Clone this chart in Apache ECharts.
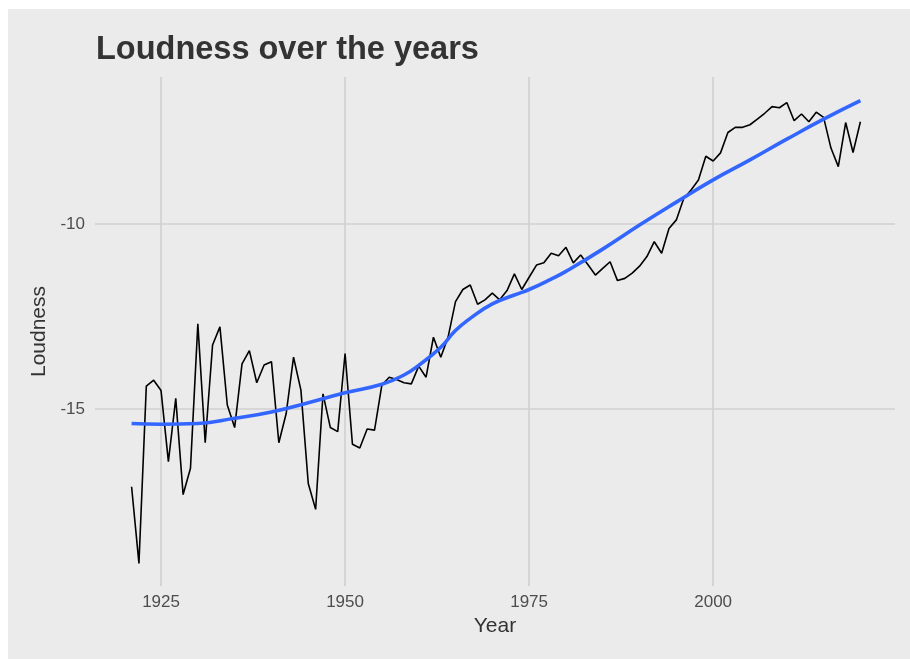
<!DOCTYPE html>
<html>
<head>
<meta charset="utf-8">
<script src="https://cdn.jsdelivr.net/npm/echarts@6/dist/echarts.min.js"></script>
<style>
  html, body { margin: 0; padding: 0; background: #fff; }
  #main { position: absolute; left: 8px; top: 9px; width: 902px; height: 650px; background: #EBEBEB; }
</style>
</head>
<body>
<div id="main"></div>
<script>
// yearly loudness (black line)
const years = [1921,1922,1923,1924,1925,1926,1927,1928,1929,1930,
  1931,1932,1933,1934,1935,1936,1937,1938,1939,1940,
  1941,1942,1943,1944,1945,1946,1947,1948,1949,1950,
  1951,1952,1953,1954,1955,1956,1957,1958,1959,1960,
  1961,1962,1963,1964,1965,1966,1967,1968,1969,1970,
  1971,1972,1973,1974,1975,1976,1977,1978,1979,1980,
  1981,1982,1983,1984,1985,1986,1987,1988,1989,1990,
  1991,1992,1993,1994,1995,1996,1997,1998,1999,2000,
  2001,2002,2003,2004,2005,2006,2007,2008,2009,2010,
  2011,2012,2013,2014,2015,2016,2017,2018,2019,2020];
const loudness = [-17.10,-19.17,-14.38,-14.22,-14.50,-16.42,-14.71,-17.31,-16.60,-12.70,
  -15.91,-13.27,-12.78,-14.89,-15.50,-13.78,-13.42,-14.29,-13.81,-13.72,
  -15.91,-15.12,-13.60,-14.49,-17.01,-17.71,-14.59,-15.50,-15.61,-13.50,
  -15.95,-16.05,-15.54,-15.57,-14.35,-14.14,-14.20,-14.29,-14.32,-13.84,
  -14.14,-13.06,-13.60,-13.05,-12.10,-11.77,-11.65,-12.17,-12.05,-11.87,
  -12.05,-11.80,-11.35,-11.77,-11.44,-11.11,-11.05,-10.79,-10.86,-10.63,
  -11.05,-10.84,-11.10,-11.38,-11.20,-11.02,-11.53,-11.47,-11.33,-11.14,
  -10.88,-10.48,-10.79,-10.12,-9.89,-9.31,-9.08,-8.81,-8.17,-8.30,
  -8.08,-7.53,-7.39,-7.39,-7.32,-7.17,-7.01,-6.83,-6.86,-6.72,
  -7.21,-7.03,-7.24,-6.98,-7.12,-7.95,-8.45,-7.26,-8.07,-7.24];

// smoothed trend (blue line), read at sample years
const trendYears = [1921,1925,1930,1935,1940,1945,1950,1955,1958,1960,1963,1965,1967,1970,1973,1975,1978,1980,1985,1990,1995,2000,2005,2010,2015,2020];
const trendValues = [-15.39,-15.41,-15.39,-15.25,-15.08,-14.83,-14.56,-14.33,-14.08,-13.82,-13.33,-12.88,-12.55,-12.16,-11.92,-11.77,-11.49,-11.28,-10.68,-10.03,-9.41,-8.81,-8.27,-7.71,-7.17,-6.67];

const xTicks = [1925, 1950, 1975, 2000];
const yTicks = [-10, -15];

const font = 'Liberation Sans, Arial, sans-serif';
const gridColor = '#D0D0D0';

let gridLines = [];
xTicks.forEach(v => gridLines.push({ xAxis: v }));
yTicks.forEach(v => gridLines.push({ yAxis: v }));

const option = {
  animation: false,
  title: {
    text: 'Loudness over the years',
    left: 83,
    top: 20,
    textStyle: { fontFamily: font, fontSize: 32.5, fontWeight: 'bold', color: '#333333' }
  },
  grid: { left: 87, top: 68, width: 800, height: 509 },
  xAxis: {
    type: 'value',
    min: 1916.03,
    max: 2024.7,
    name: 'Year',
    nameLocation: 'middle',
    nameGap: 30,
    nameTextStyle: { fontFamily: font, fontSize: 21, color: '#333333' },
    axisLine: { show: false },
    axisTick: { show: false },
    splitLine: { show: false },
    axisLabel: {
      customValues: xTicks,
      formatter: v => String(v),
      margin: 8,
      fontFamily: font, fontSize: 17, color: '#4D4D4D'
    }
  },
  yAxis: {
    type: 'value',
    min: -19.78,
    max: -6.03,
    name: 'Loudness',
    nameLocation: 'middle',
    nameGap: 42,
    nameRotate: 90,
    nameTextStyle: { fontFamily: font, fontSize: 21, color: '#333333' },
    axisLine: { show: false },
    axisTick: { show: false },
    splitLine: { show: false },
    axisLabel: {
      customValues: yTicks,
      formatter: v => String(v),
      margin: 10,
      fontFamily: font, fontSize: 17, color: '#4D4D4D'
    }
  },
  series: [
    {
      name: 'grid',
      type: 'line',
      data: [],
      silent: true,
      z: 1,
      markLine: {
        silent: true,
        z: 1,
        symbol: 'none',
        label: { show: false },
        lineStyle: { color: gridColor, width: 1.6, type: 'solid' },
        data: gridLines
      }
    },
    {
      name: 'Loudness',
      type: 'line',
      data: years.map((y, i) => [y, loudness[i]]),
      showSymbol: false,
      lineStyle: { color: '#000000', width: 1.6 },
      z: 3
    },
    {
      name: 'Trend',
      type: 'line',
      data: trendYears.map((y, i) => [y, trendValues[i]]),
      showSymbol: false,
      smooth: 0.5,
      lineStyle: { color: '#3366FF', width: 3.6 },
      z: 4
    }
  ]
};

let myChart = echarts.init(document.getElementById('main'));
myChart.setOption(option);
</script>
</body>
</html>
